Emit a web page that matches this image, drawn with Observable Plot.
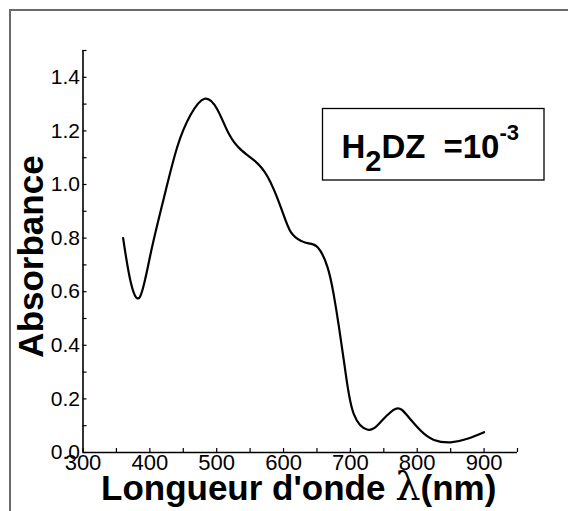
<!DOCTYPE html>
<html>
<head>
<meta charset="utf-8">
<script src="https://cdn.jsdelivr.net/npm/d3@7"></script>
<script src="https://cdn.jsdelivr.net/npm/@observablehq/plot@0.6"></script>
<style>
  body { margin: 0; background: #fff; }
  #wrap { position: relative; width: 568px; height: 511px; overflow: hidden; }
  #frame { position: absolute; left: 9px; top: 9px; width: 640px; height: 640px;
           border: 2px solid #6a6a6a; box-sizing: border-box; }
  #chart { position: absolute; left: 0; top: 0; }
</style>
</head>
<body>
<div id="wrap">
  <div id="frame"></div>
  <div id="chart"></div>
</div>
<script>
// UV-Vis spectrum of dithizone (H2DZ) at 10^-3
const wavelength = [360, 371, 385, 401, 421, 441, 461, 482, 501, 518, 536, 556, 576, 596, 611, 626,
                    636, 651, 666, 675, 683, 693, 705, 726, 745, 768, 785, 805, 825, 850, 875, 900];
const absorbance = [0.80, 0.64, 0.58, 0.74, 0.95, 1.14, 1.26, 1.32, 1.28, 1.19, 1.13, 1.09, 1.03, 0.915, 0.822, 0.79,
                    0.781, 0.766, 0.69, 0.59, 0.467, 0.294, 0.144, 0.085, 0.113, 0.163, 0.138, 0.082, 0.047, 0.038, 0.051, 0.076];

const xTicks = [300, 400, 500, 600, 700, 800, 900];
const xMinor = [350, 450, 550, 650, 750, 850, 950];
const yTicks = [0.0, 0.2, 0.4, 0.6, 0.8, 1.0, 1.2, 1.4];
const yMinor = [0.1, 0.3, 0.5, 0.7, 0.9, 1.1, 1.3, 1.5];

const xTitle = "Longueur d'onde ";
const xUnit = "(nm)";
const yTitle = "Absorbance";

const spectrum = wavelength.map((w, i) => ({w, a: absorbance[i]}));
const font = '"Liberation Sans", Arial, sans-serif';

const chart = Plot.plot({
  width: 568,
  height: 511,
  marginLeft: 82.5,
  marginRight: 51,
  marginTop: 50,
  marginBottom: 59,
  style: {fontFamily: font, color: "#000", background: "transparent", overflow: "visible"},
  x: {domain: [300, 950]},
  y: {domain: [0, 1.5]},
  marks: [
    // inward tick marks
    Plot.axisX([...xTicks, ...xMinor], {tickSize: -4, tickFormat: () => "", label: null, strokeWidth: 1.2}),
    Plot.axisY([...yTicks, ...yMinor], {tickSize: -4, tickFormat: () => "", label: null, strokeWidth: 1.2}),
    // tick labels
    Plot.axisX(xTicks, {tickSize: 0, tickPadding: 2, fontSize: 22, tickFormat: d => String(d), label: null}),
    Plot.axisY(yTicks, {tickSize: 0, tickPadding: 3, fontSize: 21, tickFormat: d => d.toFixed(1), label: null}),
    // axis lines
    Plot.ruleY([0], {stroke: "#000", strokeWidth: 1.6}),
    Plot.ruleX([300], {stroke: "#000", strokeWidth: 1.6}),
    // spectrum
    Plot.line(spectrum, {x: "w", y: "a", curve: "natural", stroke: "#000", strokeWidth: 2.2})
  ]
});

document.getElementById("chart").appendChild(chart);

const svg = d3.select(chart);

// x-axis title
const xt = svg.append("text")
  .attr("x", 101).attr("y", 500)
  .attr("text-anchor", "start")
  .attr("font-family", font).attr("font-weight", "bold").attr("font-size", 35)
  .attr("fill", "#000");
xt.append("tspan").text(xTitle);
xt.append("tspan").attr("font-family", '"DejaVu Serif", serif').attr("font-weight", "normal")
  .attr("font-size", 40).text("λ");
xt.append("tspan").text(xUnit);

// y-axis title
svg.append("text")
  .attr("transform", "translate(43,256.5) rotate(-90)")
  .attr("text-anchor", "middle")
  .attr("font-family", font).attr("font-weight", "bold").attr("font-size", 35)
  .attr("fill", "#000")
  .text(yTitle);

// concentration box
svg.append("rect")
  .attr("x", 322.5).attr("y", 108.5).attr("width", 221.5).attr("height", 71.5)
  .attr("fill", "#fff").attr("stroke", "#000").attr("stroke-width", 1.3);

const note = svg.append("text")
  .attr("x", 341.5).attr("y", 158)
  .attr("text-anchor", "start")
  .attr("font-family", font).attr("font-weight", "bold").attr("font-size", 33)
  .attr("fill", "#000");
note.append("tspan").text("H");
note.append("tspan").attr("dy", 13).attr("font-size", 29).text("2");
note.append("tspan").attr("dy", -13).text("DZ");
note.append("tspan").attr("dx", 18).text("=10");
note.append("tspan").attr("dy", -18).attr("font-size", 22).text("-3");
</script>
</body>
</html>
